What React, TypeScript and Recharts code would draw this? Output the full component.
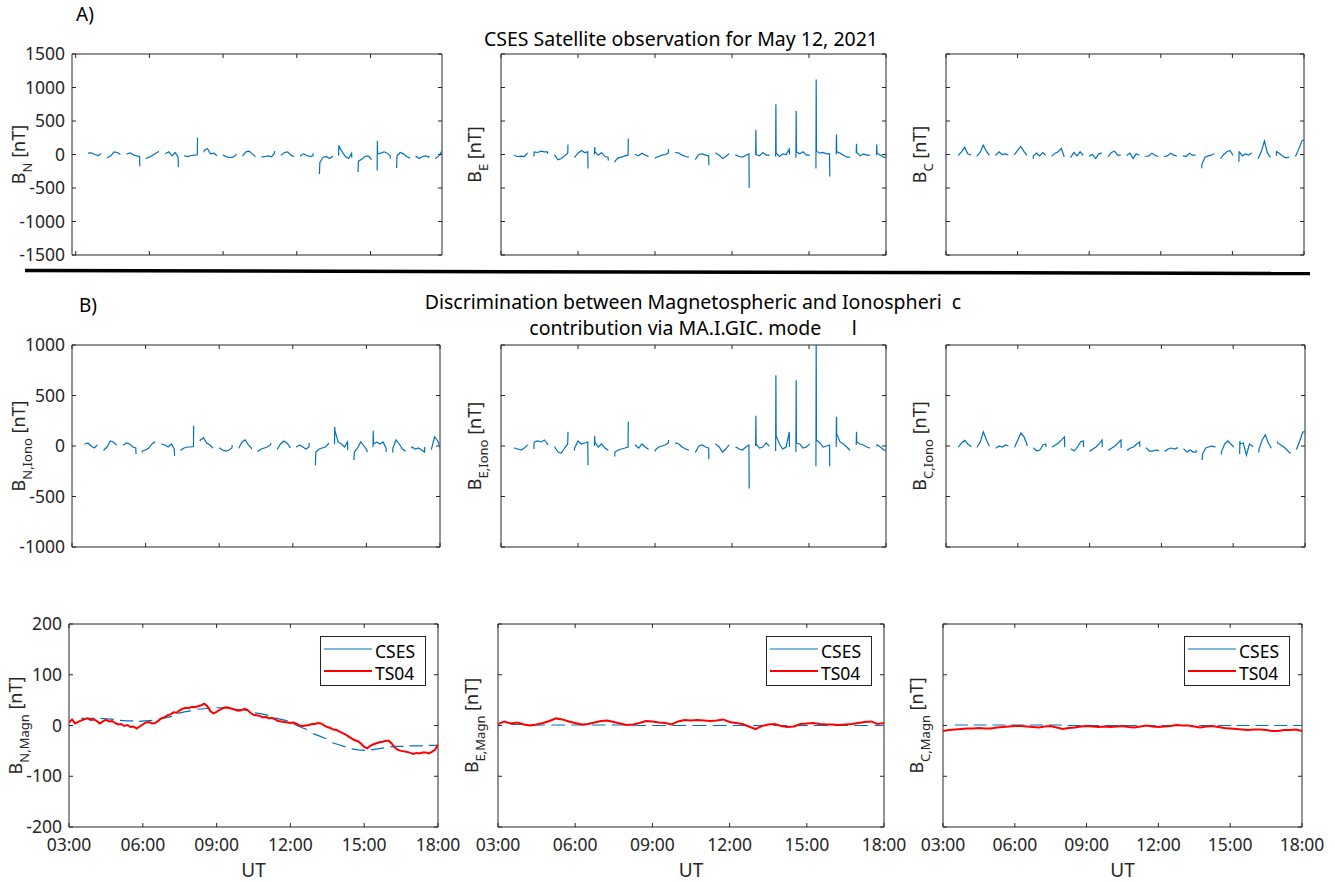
import React from 'react';
import { LineChart, Line, XAxis, YAxis, Legend, Label, ReferenceArea, ReferenceLine } from 'recharts';

const FONT = '"Noto Sans", "DejaVu Sans", sans-serif';
const INK = '#262626';
const BLUE = '#0072BD';
const RED = '#FF0000';

// Satellite passes: start hour of each orbit segment, and sample offsets within a segment
const segStart = [3.5, 4.28, 5.07, 5.85, 6.64, 7.42, 8.21, 8.99, 9.78, 10.56, 11.35, 12.13, 12.92, 13.7, 14.49, 15.27, 16.06, 16.84, 17.63];
const segOffsets = [0, 0.01, 0.02, 0.15, 0.28, 0.41, 0.53, 0.54];
const modelOffsets = [0, 0.27, 0.54];

const hourTicks = [3, 6, 9, 12, 15, 18];
const hourLabels = ['03:00', '06:00', '09:00', '12:00', '15:00', '18:00'];
const obsTicks = [-1500, -1000, -500, 0, 500, 1000, 1500];
const ionoTicks = [-1000, -500, 0, 500, 1000];
const magnTicks = [-200, -100, 0, 100, 200];

// A) CSES observation [nT]
const bnObs = [
  [20, 20, 20, 25, 0, -15, 10, 10],
  [-50, -50, -45, -20, 40, 30, 0, 0],
  [10, 10, 10, 25, -5, -20, -30, -175],
  [-60, -60, -55, -40, -10, 20, 45, 45],
  [15, 15, 15, 40, -20, 30, -40, -185],
  [-20, -20, -20, -30, -15, -10, -5, 255],
  [40, 40, 60, 90, 10, 20, -15, -20],
  [-10, -10, -10, -35, -45, -40, -10, 10],
  [-20, -20, -15, 40, 50, 10, -30, -30],
  [-40, -40, -40, -30, -20, -35, 20, 50],
  [-10, -10, -5, 30, 40, -10, -30, -30],
  [-20, -20, -20, 10, -15, -30, -20, 20],
  [-290, -200, -120, -40, -30, -60, -30, -20],
  [-20, 140, 120, 40, -30, -60, 20, -50],
  [-260, -180, -100, -70, -30, -20, -60, -80],
  [-240, 200, 10, 20, 40, 20, -20, -60],
  [-200, -100, -20, 30, 10, -30, -50, -60],
  [-40, -40, -30, -60, -30, -20, -40, -20],
  [-60, -60, -60, -20, 50, 20, 10, 10],
];
const beObs = [
  [-15, -15, -15, -30, -25, -30, 20, 20],
  [-30, 30, 40, 30, 50, 40, 40, 10],
  [-10, -10, -10, -80, -60, -20, 20, 150],
  [-40, -40, -40, 20, 60, 30, 40, -210],
  [0, 110, 40, -10, 30, -30, -40, -90],
  [-110, -110, -100, -50, -40, -20, -10, 240],
  [0, 0, 0, -20, 20, -10, -30, -30],
  [-50, -50, -50, -30, -10, 0, 20, 80],
  [30, 30, 30, 20, -10, -30, -40, -40],
  [-70, -70, -70, 0, 10, -10, -20, -160],
  [20, 20, 20, -10, -60, -30, 10, 10],
  [-10, -10, -10, -30, -40, -10, 10, -495],
  [0, 365, 0, -20, 30, -10, -10, -10],
  [-30, 750, 20, -30, 10, 0, 80, 0],
  [-50, 650, 40, 10, 40, -10, -10, -10],
  [-210, 1120, 50, 20, 30, 10, 10, -330],
  [0, 300, 40, 20, -10, -40, -40, -40],
  [20, 160, 30, -20, 10, -10, -10, -10],
  [-10, 150, 20, -10, -40, -40, -40, -40],
];
const bcObs = [
  [-10, -10, -10, 40, 110, 10, -5, -10],
  [-20, -20, -20, 30, 140, 50, -10, -10],
  [-10, -10, -10, 40, 0, 10, -5, -5],
  [0, 0, 0, 60, 120, 50, -10, -10],
  [-60, -60, -20, 20, -20, 30, -10, -10],
  [-20, -20, -20, 20, 40, 90, -30, -30],
  [-40, -40, -40, 30, -20, 40, -10, -10],
  [-20, -20, -20, 0, -60, 10, 20, 20],
  [-30, -30, -30, 30, 50, -10, -10, -10],
  [-10, -10, -10, 20, -60, 10, -10, -10],
  [-30, -30, -30, -20, 20, -10, -30, -30],
  [-30, -30, -30, -20, 20, -10, -20, -20],
  [-20, -20, -20, -30, 20, -10, -10, -10],
  [-200, -200, -150, -40, -20, -10, 10, 10],
  [-60, -60, -60, 0, 40, 60, -10, -10],
  [-110, 40, 40, -20, 10, -10, 20, 20],
  [-60, -60, -60, 40, 200, 20, -40, -40],
  [-20, 50, 40, 10, -30, -50, -40, -40],
  [-20, -20, -20, 80, 200, 230, 200, 200],
];

// B) Ionospheric contribution [nT]
const bnIono = [
  [20, 20, 20, 30, 0, -20, 10, 10],
  [-40, -40, -40, -10, 50, 40, 10, 10],
  [10, 10, 10, 30, 20, -10, -20, -80],
  [-60, -60, -50, -40, -20, 20, 40, 40],
  [20, 20, 20, 10, -10, 20, -30, -100],
  [-40, -40, -40, -20, -10, -10, -5, 200],
  [50, 50, 60, 80, 30, 10, -20, -20],
  [-20, -20, -20, -40, -50, -40, -20, 10],
  [-20, -20, -20, 40, 60, 10, -20, -30],
  [-50, -50, -50, -30, -20, -10, 10, 30],
  [-30, -30, -30, 20, 50, 30, -10, -20],
  [-10, -10, -10, 10, -10, -30, -10, 30],
  [-190, -120, -60, -30, -20, -10, 20, 30],
  [20, 190, 150, 40, 20, -10, 40, -40],
  [-140, -100, -60, -20, 40, 0, -40, -60],
  [-10, 150, 20, 40, 20, 40, -20, -60],
  [-60, -60, -20, 60, 20, -30, -50, -50],
  [-20, -20, -10, -30, -20, -40, -60, -10],
  [-30, -30, -30, 90, 50, -40, -40, -40],
];
const beIono = [
  [-20, -20, -20, -30, -40, -20, 10, 10],
  [-30, 30, 40, 50, 40, 60, 20, 10],
  [-10, -10, -10, -60, -70, -20, 20, 140],
  [-40, -40, -20, 50, 20, 30, 40, -190],
  [0, 100, 40, -10, 20, -20, -40, -40],
  [-100, -100, -60, -40, -30, -20, -10, 240],
  [10, 10, 10, -20, 20, -10, -30, -30],
  [-50, -50, -40, -10, 0, 10, 30, 60],
  [30, 30, 30, 20, -10, -30, -40, -40],
  [-60, -60, -60, 0, 10, -10, -20, -130],
  [20, 20, 20, -10, -60, -30, 10, 10],
  [-10, -10, -10, -30, -40, -10, 10, -420],
  [0, 300, 20, -20, -10, 30, 0, 0],
  [-50, 700, 100, 20, -30, -10, 140, -10],
  [-60, 650, 30, 20, -20, -10, 20, 20],
  [-200, 1050, 60, 30, -10, 0, 10, -200],
  [-10, 290, 120, 40, 20, -10, -40, -40],
  [10, 140, 40, 20, 10, -10, -20, -20],
  [0, 0, 10, -10, -40, -50, -40, -40],
];
const bcIono = [
  [-10, -10, -10, 30, 55, 20, 0, -10],
  [-10, -10, -10, 40, 140, 60, 0, 0],
  [-20, -20, -20, 0, -10, 10, 0, 0],
  [-10, -10, -10, 60, 130, 90, 20, 0],
  [-20, -20, -20, -50, -40, 10, 20, -10],
  [-10, -10, -10, 10, 30, 60, 90, -10],
  [-30, -30, -30, -50, -10, 40, 50, -10],
  [-50, -50, -50, -30, -10, 20, 60, -10],
  [-40, -40, -40, -20, 0, 30, 60, -20],
  [-40, -40, -40, -20, -10, 20, 40, -10],
  [-20, -20, -20, -50, -50, -40, -45, -40],
  [-50, -50, -50, -30, -20, -30, -20, -10],
  [-30, -30, -30, -60, -40, -60, -60, -40],
  [-140, -120, -80, -20, -10, 0, -10, 0],
  [-80, -80, -60, 20, 50, 20, -10, -10],
  [-80, 50, 20, 30, -90, 20, 0, -10],
  [-60, -60, -30, 60, 110, 30, -20, -20],
  [40, 40, 30, 10, -10, -40, -70, -60],
  [-30, -30, -30, 50, 140, 140, 140, 140],
];

// Magnetospheric contribution: CSES estimate (per pass) [nT]
const bnMagnCses = [[14, 14, 14], [14, 13, 12], [10, 9, 9], [8, 9, 10], [12, 15, 18], [24, 27, 29], [32, 33, 34], [35, 35, 34], [32, 31, 29], [25, 23, 20], [15, 12, 9], [3, -3, -8], [-16, -21, -26], [-34, -38, -42], [-46, -48, -49], [-48, -46, -44], [-42, -41, -41], [-40, -40, -40], [-39, -39, -39]];
const beMagnCses = [[2, 2, 2], [2, 1, 1], [1, 1, 1], [1, 1, 1], [1, 1, 1], [1, 1, 1], [1, 0, 0], [0, 0, 0], [0, 0, 0], [0, 0, 0], [0, 0, 0], [0, 0, 0], [0, 0, 0], [0, 0, 0], [0, 0, 0], [0, 0, 0], [0, 0, 0], [0, 0, 0], [0, 0, 0]];
const bcMagnCses = [[1, 1, 1], [1, 1, 1], [1, 1, 1], [1, 1, 1], [1, 1, 1], [1, 1, 1], [0, 0, 0], [0, 0, 0], [0, 0, 0], [0, 0, 0], [0, 0, 0], [0, 0, 0], [0, 0, 0], [0, 0, 0], [0, 0, 0], [0, 0, 0], [0, 0, 0], [0, 0, 0], [0, 0, 0]];

// TS04 model [nT]
const bnTs04Hours = [
  3, 3.125, 3.25, 3.375, 3.5, 3.625, 3.75, 3.875, 4, 4.125, 4.25, 4.375, 4.5, 4.625, 4.75, 4.875,
  5, 5.125, 5.25, 5.375, 5.5, 5.625, 5.75, 5.875, 6, 6.125, 6.25, 6.375, 6.5, 6.625, 6.75, 6.875,
  7, 7.125, 7.25, 7.375, 7.5, 7.625, 7.75, 7.875, 8, 8.125, 8.25, 8.375, 8.5, 8.625, 8.75, 8.875,
  9, 9.125, 9.25, 9.375, 9.5, 9.625, 9.75, 9.875, 10, 10.125, 10.25, 10.375, 10.5, 10.625, 10.75, 10.875,
  11, 11.125, 11.25, 11.375, 11.5, 11.625, 11.75, 11.875, 12, 12.125, 12.25, 12.375, 12.5, 12.625, 12.75, 12.875,
  13, 13.125, 13.25, 13.375, 13.5, 13.625, 13.75, 13.875, 14, 14.125, 14.25, 14.375, 14.5, 14.625, 14.75, 14.875,
  15, 15.125, 15.25, 15.375, 15.5, 15.625, 15.75, 15.875, 16, 16.125, 16.25, 16.375, 16.5, 16.625, 16.75, 16.875,
  17, 17.125, 17.25, 17.375, 17.5, 17.625, 17.75, 17.875, 18,
];
const bnTs04 = [
  6, 12, 4, 7, 10, 12, 14, 11, 12, 9, 4, 8, 11, 8, 9, 5,
  2, 3, -1, 1, -3, -2, -6, -2, 2, 6, 7, 4, 5, 9, 14, 16,
  20, 22, 26, 25, 30, 33, 35, 34, 37, 36, 38, 40, 43, 38, 28, 24,
  27, 31, 34, 36, 35, 33, 31, 29, 30, 33, 31, 25, 21, 20, 19, 16,
  17, 14, 15, 12, 9, 8, 7, 6, 5, 6, 3, 0, -1, 0, 1, 3,
  3, 5, 4, 0, -3, -5, -8, -9, -12, -15, -18, -22, -26, -29, -31, -36,
  -42, -45, -40, -37, -35, -33, -32, -30, -30, -36, -44, -48, -50, -51, -52, -54,
  -56, -54, -55, -53, -53, -55, -52, -48, -38,
];
const ts04Hours = [3, 3.25, 3.5, 3.75, 4, 4.25, 4.5, 4.75, 5, 5.25, 5.5, 5.75, 6, 6.25, 6.5, 6.75, 7, 7.25, 7.5, 7.75, 8, 8.25, 8.5, 8.75, 9, 9.25, 9.5, 9.75, 10, 10.25, 10.5, 10.75, 11, 11.25, 11.5, 11.75, 12, 12.25, 12.5, 12.75, 13, 13.25, 13.5, 13.75, 14, 14.25, 14.5, 14.75, 15, 15.25, 15.5, 15.75, 16, 16.25, 16.5, 16.75, 17, 17.25, 17.5, 17.75, 18];
const beTs04 = [3, 8, 4, 6, 2, 0, 2, 5, 9, 14, 12, 8, 5, 2, 3, 6, 9, 10, 7, 4, 1, 2, 5, 9, 8, 6, 5, 2, 8, 11, 10, 11, 10, 9, 10, 12, 7, 5, 3, -2, -7, -1, 2, 3, -1, -3, -2, 3, 4, 5, 3, 2, 2, 1, 2, 3, 5, 7, 8, 3, 5];
const bcTs04 = [-11, -9, -8, -7, -6, -6, -5, -6, -6, -4, -3, -2, -1, -1, -2, -3, -4, -2, -1, -4, -7, -5, -4, -2, -1, -2, -3, -2, -3, -2, -1, -3, -4, -2, 0, -2, -3, -2, -1, 1, 0, 0, -2, -4, -2, -1, -3, -5, -6, -7, -8, -9, -8, -8, -9, -11, -11, -9, -9, -8, -11];

type Row = { t: number; v: number | null };

function segmentRows(values: number[][], offsets: number[]): Row[] {
  const rows: Row[] = [];
  segStart.forEach((s, i) => {
    offsets.forEach((o, j) => rows.push({ t: Math.round((s + o) * 1000) / 1000, v: values[i][j] }));
    rows.push({ t: Math.round((s + 0.66) * 1000) / 1000, v: null });
  });
  return rows;
}
function continuousRows(hours: number[], values: number[]): Row[] {
  return hours.map((t, i) => ({ t, v: values[i] }));
}

const fmtHour = (v: number) => {
  const i = hourTicks.indexOf(v);
  return i >= 0 ? hourLabels[i] : '';
};

type Series = { name: string; rows: Row[]; color: string; width: number };
type PanelSpec = {
  id: string;
  l: number; t: number; r: number; b: number;
  xDomain: [number, number];
  xTicks: number[];
  yDomain: [number, number];
  yTicks: number[];
  yLabels: boolean;
  xLabels: boolean;
  sub: string;
  gap: number;
  series: Series[];
  legend?: boolean;
};

const makeYLabel = (sub: string, gap: number) => (props: any) => {
  const vb = props.viewBox || { x: 0, y: 0, width: 0, height: 0 };
  const x = vb.x + vb.width - gap;
  const y = vb.y + vb.height / 2;
  return (
    <text x={x} y={y} transform={`rotate(-90 ${x} ${y})`} textAnchor="middle" fill={INK} fontSize={18} fontFamily={FONT}>
      B<tspan fontSize={13} dy={7}>{sub}</tspan><tspan dy={-7}>{' [nT]'}</tspan>
    </text>
  );
};

const utLabel = (props: any) => {
  const vb = props.viewBox || { x: 0, y: 0, width: 0, height: 0 };
  return (
    <text x={vb.x + vb.width / 2} y={vb.y + 50} textAnchor="middle" fill={INK} fontSize={19} fontFamily={FONT}>UT</text>
  );
};

const LegendBox = () => (
  <svg width={106} height={50} style={{ display: 'block' }}>
    <rect x={0.5} y={0.5} width={105} height={49} fill="#ffffff" stroke={INK} strokeWidth={1} />
    <line x1={4} x2={52} y1={13} y2={13} stroke={BLUE} strokeWidth={1.2} />
    <text x={55} y={22} fontSize={17.5} fill="#000" fontFamily={FONT}>CSES</text>
    <line x1={4} x2={52} y1={35} y2={35} stroke={RED} strokeWidth={2} />
    <text x={55} y={44} fontSize={17.5} fill="#000" fontFamily={FONT}>TS04</text>
  </svg>
);

const YW = 70;
const XH = 60;
const MT = 16;
const MR = 30;
const TICK_PX = 4;

function Panel({ p }: { p: PanelSpec }) {
  const w = p.r - p.l + YW + MR;
  const h = p.b - p.t + MT + XH;
  const tickStyle = { fill: INK, fontSize: 17.5, fontFamily: FONT };
  const [x0, x1] = p.xDomain;
  const [y0, y1] = p.yDomain;
  const dx = (TICK_PX * (x1 - x0)) / (p.r - p.l);
  const dy = (TICK_PX * (y1 - y0)) / (p.b - p.t);
  const tickSegs: { k: string; seg: { x: number; y: number }[] }[] = [];
  p.xTicks.forEach((t) => {
    tickSegs.push({ k: `xb${t}`, seg: [{ x: t, y: y0 }, { x: t, y: y0 + dy }] });
    tickSegs.push({ k: `xt${t}`, seg: [{ x: t, y: y1 }, { x: t, y: y1 - dy }] });
  });
  p.yTicks.forEach((v) => {
    tickSegs.push({ k: `yl${v}`, seg: [{ x: x0, y: v }, { x: x0 + dx, y: v }] });
    tickSegs.push({ k: `yr${v}`, seg: [{ x: x1, y: v }, { x: x1 - dx, y: v }] });
  });
  return (
    <div style={{ position: 'absolute', left: p.l - YW, top: p.t - MT, width: w, height: h }}>
      <LineChart width={w} height={h} margin={{ top: MT, right: MR, bottom: 0, left: 0 }}>
        <XAxis
          dataKey="t" type="number" domain={p.xDomain} ticks={p.xTicks} allowDataOverflow interval={0}
          height={XH} tickSize={0} tickMargin={12} axisLine={false} tickLine={false}
          tick={p.xLabels ? tickStyle : false} tickFormatter={fmtHour}
          label={p.xLabels ? <Label content={utLabel} /> : undefined}
        />
        <YAxis
          type="number" domain={p.yDomain} ticks={p.yTicks} allowDataOverflow interval={0}
          width={YW} tickSize={0} tickMargin={7} axisLine={false} tickLine={false}
          tick={p.yLabels ? tickStyle : false}
          label={<Label content={makeYLabel(p.sub, p.gap)} />}
        />
        <ReferenceArea x1={x0} x2={x1} y1={y0} y2={y1} fill="none" fillOpacity={0} stroke={INK} strokeWidth={1} ifOverflow="visible" />
        {tickSegs.map((s) => (
          <ReferenceLine key={s.k} segment={s.seg} stroke={INK} strokeWidth={1} ifOverflow="visible" />
        ))}
        {p.series.map((s) => (
          <Line
            key={s.name} name={s.name} data={s.rows} dataKey="v" type="linear"
            stroke={s.color} strokeWidth={s.width} dot={false} activeDot={false} connectNulls={false}
            isAnimationActive={false}
          />
        ))}
        {p.legend ? (
          <Legend
            layout="vertical" align="center" verticalAlign="middle"
            wrapperStyle={{ position: 'absolute', left: p.r - 12 - 106 - (p.l - YW), top: MT + 12, width: 106, height: 50 }}
            content={() => <LegendBox />}
          />
        ) : null}
      </LineChart>
    </div>
  );
}

const obs = (rows: Row[]): Series[] => [{ name: 'obs', rows, color: BLUE, width: 1.2 }];
const magn = (model: Row[], ts04: Row[]): Series[] => [
  { name: 'CSES', rows: model, color: BLUE, width: 1.2 },
  { name: 'TS04', rows: ts04, color: RED, width: 2 },
];

const full: [number, number] = [3, 18];

const panels: PanelSpec[] = [
  { id: 'a1', l: 72, t: 54, r: 442, b: 255, xDomain: [2.85, 17.91], xTicks: [3, 6, 9, 12, 15], yDomain: [-1500, 1500], yTicks: obsTicks, yLabels: true, xLabels: false, sub: 'N', gap: 47, series: obs(segmentRows(bnObs, segOffsets)) },
  { id: 'a2', l: 501, t: 54, r: 886, b: 255, xDomain: full, xTicks: hourTicks, yDomain: [-1500, 1500], yTicks: obsTicks, yLabels: false, xLabels: false, sub: 'E', gap: 20, series: obs(segmentRows(beObs, segOffsets)) },
  { id: 'a3', l: 946, t: 54, r: 1304, b: 255, xDomain: full, xTicks: hourTicks, yDomain: [-1500, 1500], yTicks: obsTicks, yLabels: false, xLabels: false, sub: 'C', gap: 20, series: obs(segmentRows(bcObs, segOffsets)) },
  { id: 'b1', l: 72, t: 345, r: 440, b: 547, xDomain: full, xTicks: hourTicks, yDomain: [-1000, 1000], yTicks: ionoTicks, yLabels: true, xLabels: false, sub: 'N,Iono', gap: 47, series: obs(segmentRows(bnIono, segOffsets)) },
  { id: 'b2', l: 501, t: 345, r: 886, b: 547, xDomain: full, xTicks: hourTicks, yDomain: [-1000, 1000], yTicks: ionoTicks, yLabels: false, xLabels: false, sub: 'E,Iono', gap: 20, series: obs(segmentRows(beIono, segOffsets)) },
  { id: 'b3', l: 946, t: 345, r: 1305, b: 547, xDomain: full, xTicks: hourTicks, yDomain: [-1000, 1000], yTicks: ionoTicks, yLabels: false, xLabels: false, sub: 'C,Iono', gap: 20, series: obs(segmentRows(bcIono, segOffsets)) },
  { id: 'c1', l: 69, t: 624, r: 438, b: 827, xDomain: full, xTicks: hourTicks, yDomain: [-200, 200], yTicks: magnTicks, yLabels: true, xLabels: true, sub: 'N,Magn', gap: 47, legend: true, series: magn(segmentRows(bnMagnCses, modelOffsets), continuousRows(bnTs04Hours, bnTs04)) },
  { id: 'c2', l: 498, t: 624, r: 884, b: 827, xDomain: full, xTicks: hourTicks, yDomain: [-200, 200], yTicks: magnTicks, yLabels: false, xLabels: true, sub: 'E,Magn', gap: 20, legend: true, series: magn(segmentRows(beMagnCses, modelOffsets), continuousRows(ts04Hours, beTs04)) },
  { id: 'c3', l: 943, t: 624, r: 1302, b: 827, xDomain: full, xTicks: hourTicks, yDomain: [-200, 200], yTicks: magnTicks, yLabels: false, xLabels: true, sub: 'C,Magn', gap: 20, legend: true, series: magn(segmentRows(bcMagnCses, modelOffsets), continuousRows(ts04Hours, bcTs04)) },
];

export default function App() {
  return (
    <div style={{ position: 'absolute', left: 0, top: 0, width: 1335, height: 882, background: '#ffffff', fontFamily: FONT, overflow: 'hidden' }}>
      {panels.map((p) => <Panel key={p.id} p={p} />)}
      <svg width={1335} height={882} style={{ position: 'absolute', left: 0, top: 0, pointerEvents: 'none' }}>
        <text x={76} y={21} fontSize={19} fill="#000" fontFamily={FONT}>A)</text>
        <text x={681} y={46} textAnchor="middle" fontSize={19.5} fill="#000" fontFamily={FONT}>CSES Satellite observation for May 12, 2021</text>
        <line x1={25} y1={270.6} x2={1310} y2={273.5} stroke="#000" strokeWidth={3.5} />
        <text x={79} y={312} fontSize={19} fill="#000" fontFamily={FONT}>B)</text>
        <text x={693} y={309} textAnchor="middle" fontSize={19.5} fill="#000" fontFamily={FONT} xmlSpace="preserve" style={{ whiteSpace: 'pre' }}>Discrimination between Magnetospheric and Ionospheri  c</text>
        <text x={693} y={335} textAnchor="middle" fontSize={19.5} fill="#000" fontFamily={FONT} xmlSpace="preserve" style={{ whiteSpace: 'pre' }}>contribution via MA.I.GIC. mode      l</text>
      </svg>
    </div>
  );
}
